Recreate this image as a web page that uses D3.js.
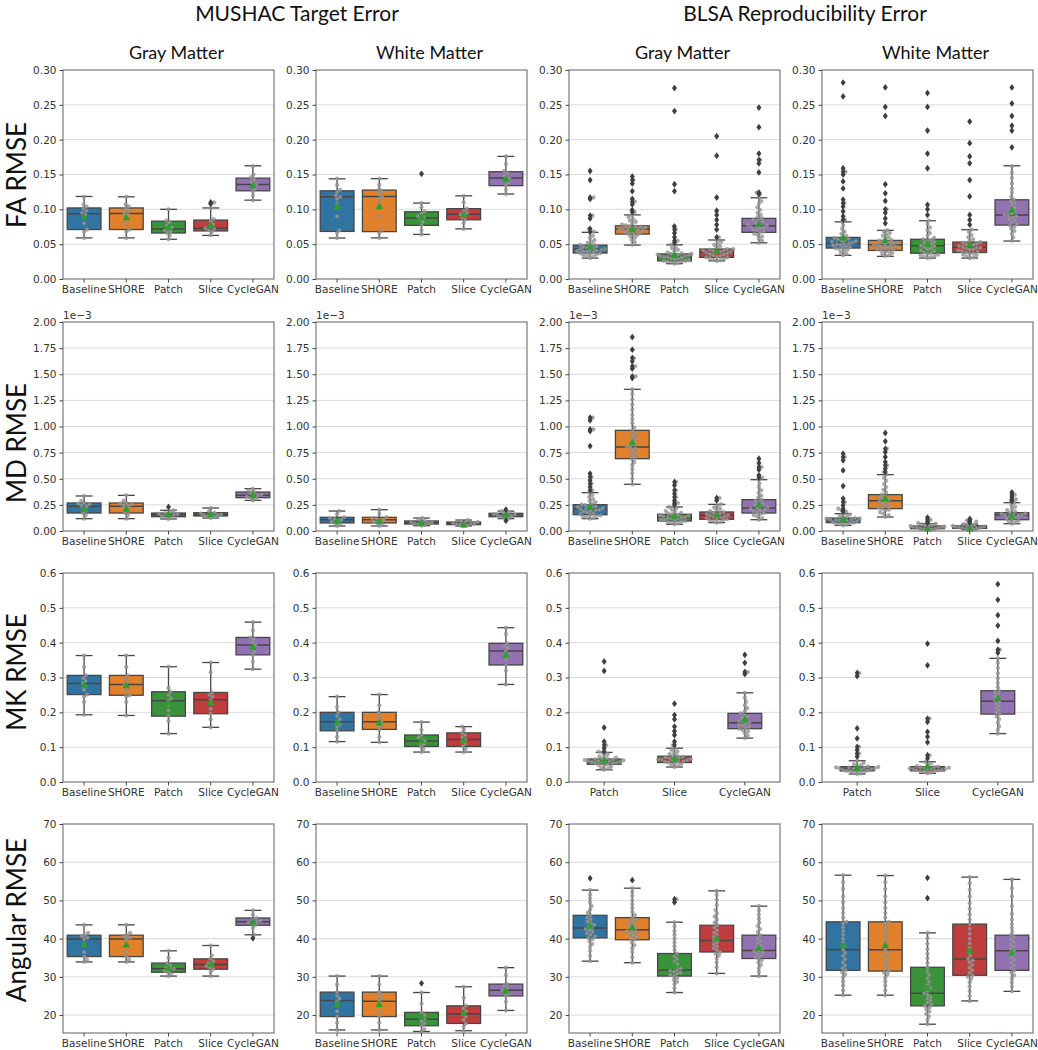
<!DOCTYPE html>
<html><head><meta charset="utf-8">
<script src="https://cdn.jsdelivr.net/npm/d3@7"></script>
<style>body{margin:0;background:#fff}svg{display:block}</style>
</head><body>
<svg id="chart" width="1038" height="1050"></svg>
<script>
// ---------------- DATA ----------------
const groupTitles = ["MUSHAC Target Error", "BLSA Reproducibility Error"];
const tissueTitles = ["Gray Matter", "White Matter", "Gray Matter", "White Matter"];
const rowLabels = ["FA RMSE", "MD RMSE", "MK RMSE", "Angular RMSE"];
const methods5 = ["Baseline", "SHORE", "Patch", "Slice", "CycleGAN"];
const methods3 = ["Patch", "Slice", "CycleGAN"];
const methodColors = ["#3274a1", "#e1812c", "#3a923a", "#c03d3e", "#9372b2"];

const faTicks = [0, 0.05, 0.10, 0.15, 0.20, 0.25, 0.30];
const faTickLabels = ["0.00", "0.05", "0.10", "0.15", "0.20", "0.25", "0.30"];
const mdTicks = [0, 0.25, 0.5, 0.75, 1.0, 1.25, 1.5, 1.75, 2.0];
const mdTickLabels = ["0.00", "0.25", "0.50", "0.75", "1.00", "1.25", "1.50", "1.75", "2.00"];
const mkTicks = [0, 0.1, 0.2, 0.3, 0.4, 0.5, 0.6];
const mkTickLabels = ["0.0", "0.1", "0.2", "0.3", "0.4", "0.5", "0.6"];
const angTicks = [20, 30, 40, 50, 60, 70];
const angTickLabels = ["20", "30", "40", "50", "60", "70"];
const rowDomains = [[0, 0.30], [0, 2.0], [0, 0.6], [15.3, 70]];
const mdOffsetLabel = "1e\u22123";

// box stats per method: [whiskerLow, q1, median, q3, whiskerHigh, mean]
// ---- FA ----
const fa_mg_stats = [[.059,.071,.0936,.102,.1185,.088],[.059,.071,.094,.102,.118,.088],[.057,.066,.0717,.083,.100,.074],[.0626,.069,.073,.0846,.102,.077],[.1132,.1266,.1357,.1448,.1625,.134]];
const fa_mw_stats = [[.0588,.0683,.118,.1266,.1438,.104],[.059,.068,.1185,.1276,.144,.104],[.064,.077,.0874,.0965,.109,.088],[.072,.085,.093,.101,.1194,.092],[.122,.134,.145,.154,.176,.143]];
const fa_bg_stats = [[.030,.0373,.043,.0487,.067,.046],[.0487,.0645,.0717,.0764,.092,.071],[.022,.026,.0325,.036,.049,.034],[.026,.031,.0387,.043,.056,.040],[.052,.067,.0764,.087,.1166,.079]];
const fa_bw_stats = [[.034,.0444,.0516,.0597,.082,.059],[.0325,.041,.049,.0554,.0698,.055],[.030,.037,.0478,.057,.0836,.050],[.030,.038,.0454,.053,.0707,.049],[.0545,.0774,.0917,.1137,.1625,.099]];
const fa_mg_out = [[],[],[],[.108,.110],[]];
const fa_mw_out = [[],[],[.151],[],[]];
const fa_bg_out = [[.155,.142,.117,.115,.091,.087,.072,.068],[.147,.142,.137,.126,.115,.111,.107,.099,.096],[.274,.241,.136,.126,.0755,.071,.066,.060,.055,.052],[.205,.177,.117,.098,.092,.085,.078,.071,.060],[.246,.218,.180,.171,.166,.153,.124,.122]];
const fa_bw_out = [[.282,.262,.159,.154,.150,.140,.130,.114,.109,.104,.097,.090,.085],[.275,.247,.234,.136,.123,.112,.100,.095,.087,.080],[.267,.247,.213,.180,.159,.1065,.100,.092],[.226,.195,.176,.166,.142,.1185,.092,.085,.078],[.275,.252,.234,.220,.213,.189]];
const fa_mg_pts = [[.059,.068,.071,.080,.088,.093,.095,.098,.101,.104,.107,.118],[.059,.068,.071,.080,.088,.093,.095,.098,.101,.104,.107,.118],[.057,.062,.066,.068,.070,.072,.074,.077,.081,.084,.100],[.063,.068,.070,.072,.073,.075,.079,.083,.086,.102],[.113,.120,.126,.130,.134,.136,.139,.143,.146,.150,.162]];
const fa_mw_pts = [[.059,.066,.070,.090,.108,.115,.118,.120,.125,.128,.135,.144],[.059,.066,.070,.090,.108,.115,.118,.121,.125,.129,.135,.144],[.064,.070,.077,.082,.086,.088,.090,.094,.097,.103,.109],[.072,.080,.085,.088,.091,.093,.095,.098,.101,.110,.119],[.122,.128,.134,.138,.143,.145,.148,.152,.155,.165,.176]];
const fa_bg_pts = [
 [.030,.032,.033,.034,.035,.036,.037,.037,.038,.039,.040,.040,.041,.042,.042,.043,.043,.044,.045,.046,.047,.048,.049,.050,.052,.054,.056,.059,.062,.067],
 [.049,.053,.056,.059,.061,.063,.064,.065,.066,.067,.068,.069,.070,.071,.071,.072,.072,.073,.074,.075,.075,.076,.077,.078,.080,.082,.084,.086,.089,.092],
 [.022,.023,.024,.025,.025,.026,.026,.027,.028,.029,.030,.031,.032,.032,.033,.033,.034,.034,.035,.035,.036,.036,.037,.038,.040,.042,.044,.046,.049],
 [.026,.027,.028,.029,.030,.031,.031,.032,.033,.034,.035,.036,.037,.038,.038,.039,.039,.040,.041,.041,.042,.043,.043,.045,.047,.049,.051,.053,.056],
 [.052,.055,.058,.061,.063,.065,.067,.068,.070,.071,.073,.074,.075,.076,.077,.078,.079,.081,.082,.084,.085,.087,.089,.092,.095,.099,.103,.108,.112,.117]];
const fa_bw_pts = [
 [.034,.036,.038,.040,.042,.043,.044,.045,.046,.047,.048,.049,.050,.051,.051,.052,.053,.054,.055,.056,.057,.058,.059,.060,.062,.065,.068,.072,.077,.082],
 [.033,.034,.036,.037,.039,.040,.041,.042,.043,.044,.045,.046,.047,.048,.049,.049,.050,.051,.052,.053,.054,.055,.056,.058,.060,.062,.064,.066,.068,.070],
 [.030,.031,.032,.033,.034,.035,.036,.037,.038,.040,.041,.043,.044,.046,.047,.048,.049,.050,.052,.053,.055,.056,.057,.059,.062,.066,.070,.074,.079,.084],
 [.030,.031,.032,.034,.035,.036,.037,.038,.039,.040,.041,.042,.043,.044,.045,.045,.046,.047,.048,.049,.050,.051,.052,.053,.055,.057,.060,.063,.067,.071],
 [.055,.060,.065,.069,.072,.075,.077,.079,.082,.084,.086,.088,.090,.091,.092,.094,.097,.100,.103,.106,.109,.111,.114,.118,.124,.130,.137,.145,.153,.162]];

// ---- MD (x1e-3) ----
const md_mg_stats = [[.118,.172,.236,.268,.335,.21],[.118,.172,.236,.268,.341,.21],[.115,.137,.156,.172,.198,.16],[.124,.144,.156,.175,.22,.157],[.293,.319,.341,.373,.405,.345]];
const md_mw_stats = [[.048,.077,.108,.131,.191,.095],[.048,.077,.108,.131,.204,.095],[.051,.067,.080,.096,.124,.075],[.048,.061,.073,.086,.105,.058],[.118,.137,.153,.169,.19,.155]];
const md_bg_stats = [[.118,.156,.21,.252,.367,.23],[.447,.692,.804,.963,1.356,.845],[.064,.096,.128,.16,.23,.14],[.08,.112,.15,.182,.255,.15],[.108,.172,.22,.30,.491,.25]];
const md_bw_stats = [[.054,.08,.108,.124,.166,.11],[.134,.214,.29,.348,.539,.31],[.013,.022,.038,.048,.07,.02],[.013,.025,.04,.05,.065,.02],[.07,.108,.153,.175,.271,.14]];
const md_mg_out = [[],[],[.23],[],[]];
const md_mw_out = [[],[],[],[],[.205,.098]];
const md_bg_out = [[1.085,1.06,.973,.957,.813,.549,.517,.485,.453,.42,.39],[1.856,1.735,1.656,1.624,1.576,1.553,1.48,1.464],[.469,.437,.39,.357,.325,.293,.268,.252],[.316,.293],[.692,.65,.612,.587,.533,.51]];
const md_bw_out = [[.74,.708,.676,.58,.43,.31,.277,.245,.214,.198,.185],[.938,.858,.788,.756,.708,.66,.628,.597,.565],[.128,.108,.089,.077],[.115,.1,.09,.08],[.37,.348,.325,.303,.287]];
const md_mg_pts = [[.118,.15,.172,.19,.215,.236,.245,.255,.262,.268,.29,.335],[.118,.15,.172,.19,.215,.236,.245,.255,.262,.268,.29,.341],[.115,.125,.137,.145,.152,.156,.16,.165,.172,.185,.198],[.124,.135,.144,.15,.154,.156,.16,.168,.175,.19,.22],[.293,.31,.319,.33,.338,.341,.35,.362,.373,.39,.405]];
const md_mw_pts = [[.048,.065,.077,.09,.1,.108,.115,.122,.131,.16,.191],[.048,.065,.077,.09,.1,.108,.115,.122,.131,.165,.204],[.051,.06,.067,.072,.077,.08,.085,.09,.096,.11,.124],[.048,.055,.061,.066,.07,.073,.077,.082,.086,.095,.105],[.118,.13,.137,.145,.15,.153,.157,.163,.169,.18,.19]];
const md_bg_pts = [
 [.118,.125,.132,.138,.145,.150,.156,.162,.170,.178,.185,.192,.198,.204,.208,.212,.218,.224,.230,.236,.242,.248,.252,.262,.275,.290,.305,.325,.345,.367],
 [.447,.50,.55,.59,.63,.66,.69,.71,.73,.75,.77,.79,.80,.81,.83,.85,.87,.89,.91,.93,.96,.99,1.03,1.07,1.11,1.16,1.21,1.26,1.31,1.356],
 [.064,.072,.080,.086,.092,.096,.100,.106,.110,.115,.120,.124,.128,.132,.136,.140,.145,.150,.155,.160,.166,.174,.182,.192,.203,.215,.23],
 [.080,.088,.095,.102,.108,.112,.118,.124,.130,.136,.142,.148,.152,.156,.162,.168,.174,.182,.190,.200,.212,.225,.240,.255],
 [.108,.125,.140,.152,.162,.172,.180,.190,.198,.206,.214,.220,.228,.238,.250,.262,.275,.288,.300,.318,.340,.365,.390,.420,.455,.491]];
const md_bw_pts = [
 [.054,.060,.066,.072,.077,.080,.085,.090,.095,.100,.104,.108,.110,.113,.116,.120,.124,.130,.138,.148,.158,.166],
 [.134,.150,.165,.180,.195,.205,.214,.225,.240,.255,.268,.280,.290,.300,.310,.322,.335,.348,.370,.395,.420,.450,.480,.510,.539],
 [.013,.016,.019,.022,.026,.030,.034,.038,.040,.043,.046,.048,.053,.058,.064,.070],
 [.013,.017,.021,.025,.029,.033,.037,.040,.043,.046,.050,.054,.059,.065],
 [.070,.080,.090,.100,.108,.118,.128,.138,.145,.150,.153,.158,.163,.168,.175,.188,.200,.215,.232,.250,.271]];

// ---- MK ----
const mk_mg_stats = [[.193,.251,.283,.306,.363,.278],[.191,.249,.28,.306,.363,.277],[.139,.189,.233,.259,.331,.226],[.157,.196,.236,.257,.343,.228],[.324,.365,.393,.415,.459,.387]];
const mk_mw_stats = [[.116,.147,.173,.2,.245,.17],[.114,.151,.173,.2,.251,.17],[.086,.102,.118,.135,.172,.118],[.086,.102,.122,.141,.159,.12],[.28,.336,.376,.398,.443,.365]];
const mk_bg_stats = [[.035,.051,.06,.066,.085,.06],[.043,.056,.065,.074,.097,.067],[.126,.153,.17,.197,.256,.18]];
const mk_bw_stats = [[.023,.032,.039,.044,.061,.04],[.025,.032,.038,.044,.058,.045],[.139,.195,.232,.262,.355,.24]];
const mk_mg_out = [[],[],[],[],[]];
const mk_mw_out = [[],[],[],[],[]];
const mk_bg_out = [[.346,.319,.156,.116,.106,.097,.087],[.225,.192,.18,.159,.146,.135,.116,.106],[.365,.342,.316,.31]];
const mk_bw_out = [[.313,.304,.154,.125,.101,.092,.082,.073],[.397,.335,.182,.173,.144,.13,.114,.077,.068],[.568,.523,.479,.449,.405,.38,.371]];
const mk_mg_pts = [[.193,.23,.245,.251,.265,.275,.283,.29,.298,.306,.33,.363],[.191,.23,.245,.249,.262,.272,.28,.288,.297,.306,.33,.363],[.139,.175,.189,.205,.22,.233,.24,.25,.259,.27,.331],[.157,.18,.196,.21,.225,.236,.245,.25,.257,.315,.343],[.324,.345,.365,.375,.385,.393,.4,.41,.415,.435,.459]];
const mk_mw_pts = [[.116,.13,.147,.158,.165,.173,.18,.19,.2,.215,.245],[.114,.13,.151,.16,.167,.173,.18,.19,.2,.22,.251],[.086,.095,.102,.108,.113,.118,.123,.128,.135,.15,.172],[.086,.095,.102,.11,.116,.122,.128,.135,.141,.15,.159],[.28,.32,.336,.35,.365,.376,.385,.39,.398,.425,.443]];
const mk_bg_pts = [
 [.035,.038,.041,.044,.047,.049,.051,.053,.054,.055,.056,.057,.058,.059,.060,.060,.061,.062,.063,.064,.065,.066,.068,.070,.073,.076,.080,.085],
 [.043,.046,.049,.052,.054,.056,.058,.059,.060,.062,.063,.064,.065,.066,.067,.068,.069,.070,.072,.074,.077,.080,.084,.088,.092,.097],
 [.126,.133,.140,.145,.149,.153,.156,.159,.162,.165,.168,.170,.173,.176,.180,.184,.188,.192,.197,.204,.212,.220,.230,.242,.256]];
const mk_bw_pts = [
 [.023,.025,.027,.029,.031,.032,.033,.034,.035,.036,.037,.038,.039,.039,.040,.041,.042,.043,.044,.046,.048,.051,.055,.061],
 [.025,.027,.029,.031,.032,.033,.034,.035,.036,.037,.038,.038,.039,.040,.041,.042,.043,.044,.046,.049,.053,.058],
 [.139,.150,.160,.170,.180,.188,.195,.200,.206,.212,.218,.224,.230,.234,.240,.246,.252,.258,.262,.272,.284,.298,.312,.328,.342,.355]];

// ---- Angular ----
const ang_mg_stats = [[33.9,35.3,39.9,40.9,43.6,38.4],[33.9,35.3,39.9,40.9,43.6,38.4],[30.2,31.2,32.1,33.6,36.8,32.3],[30.2,32.0,33.2,34.7,38.2,33.3],[41.0,43.5,44.4,45.4,47.4,44.3]];
const ang_mw_stats = [[16.1,19.6,23.8,26.0,30.2,22.8],[16.1,19.6,23.6,26.0,30.2,22.8],[15.7,17.2,18.9,20.7,25.9,19.5],[15.9,17.8,20.3,22.4,27.4,20.5],[21.2,25.0,26.5,28.1,32.4,26.3]];
const ang_bg_stats = [[34.1,40.2,42.8,46.1,52.7,43.3],[33.7,39.7,42.3,45.5,53.2,42.9],[25.9,30.2,31.8,36.1,44.3,33.0],[30.9,36.5,39.5,43.5,52.5,40.0],[30.2,34.8,36.9,40.9,48.5,37.5]];
const ang_bw_stats = [[25.2,31.7,37.1,44.4,56.6,38.2],[25.2,31.5,37.1,44.4,56.5,38.2],[17.6,22.4,25.7,32.5,41.5,27.0],[23.7,30.4,34.7,43.8,56.1,36.9],[26.2,31.7,36.8,40.9,55.5,36.3]];
const ang_mg_out = [[],[],[],[],[40.1]];
const ang_mw_out = [[],[],[28.3],[],[]];
const ang_bg_out = [[55.8],[55.3],[50.3,49.5],[],[]];
const ang_bw_out = [[],[],[55.9,50.6],[],[]];
const ang_mg_pts = [[33.9,34.5,35.3,36.5,38.5,39.9,40.2,40.6,40.9,41.5,43.6],[33.9,34.5,35.3,36.5,38.5,39.9,40.2,40.6,40.9,41.5,43.6],[30.2,30.8,31.2,31.6,32,32.1,32.5,33,33.6,35,36.8],[30.2,31.3,32,32.4,32.8,33.2,33.6,34.1,34.7,35.6,38.2],[41,42.8,43.5,43.9,44.2,44.4,44.7,45,45.4,46.3,47.4]];
const ang_mw_pts = [[16.1,18,19.6,21,22.5,23.6,24.3,25,26,28,30.2],[16.1,18,19.6,21,22.5,23.6,24.3,25,26,28,30.2],[15.7,16.3,17.2,17.8,18.4,18.9,19.5,20,20.7,23,25.9],[15.9,17,17.8,18.8,19.6,20.3,21,21.7,22.4,24.5,27.4],[21.2,23.5,25,25.6,26.1,26.5,27,27.6,28.1,30.5,32.4]];
const ang_bg_pts = [
 [34.1,35.5,36.8,37.8,38.6,39.3,39.9,40.2,40.6,41.0,41.4,41.8,42.2,42.5,42.8,43.2,43.6,44.0,44.5,45.0,45.5,46.1,46.8,47.6,48.5,49.5,50.5,51.5,52.7],
 [33.7,35.2,36.5,37.5,38.3,39.0,39.7,40.1,40.5,40.9,41.3,41.7,42.0,42.3,42.7,43.1,43.5,44.0,44.5,45.0,45.5,46.2,47.0,48.0,49.0,50.0,51.2,52.2,53.2],
 [25.9,27.0,28.0,28.7,29.2,29.7,30.2,30.5,30.8,31.1,31.4,31.6,31.8,32.2,32.7,33.3,34.0,34.7,35.4,36.1,37.0,38.0,39.0,40.0,41.0,42.0,43.2,44.3],
 [30.9,32.5,33.8,34.8,35.6,36.1,36.5,37.0,37.5,38.0,38.5,39.0,39.5,40.0,40.5,41.0,41.6,42.2,42.9,43.5,44.2,45.0,45.8,46.6,47.5,48.8,50.2,51.4,52.5],
 [30.2,31.3,32.3,33.1,33.8,34.3,34.8,35.2,35.6,36.0,36.3,36.6,36.9,37.3,37.8,38.3,38.8,39.4,40.1,40.9,41.7,42.5,43.3,44.2,45.2,46.3,47.4,48.5]];
const ang_bw_pts = [
 [25.2,26.5,27.7,28.8,29.8,30.6,31.2,31.7,32.3,33.0,33.8,34.6,35.5,36.3,37.1,38.0,39.0,40.0,41.0,42.0,43.0,44.0,44.4,45.5,46.7,48.0,49.5,51.0,53.0,54.8,56.6],
 [25.2,26.5,27.7,28.8,29.8,30.6,31.1,31.5,32.2,33.0,33.8,34.6,35.5,36.3,37.1,38.0,39.0,40.0,41.0,42.0,43.0,44.0,44.4,45.5,46.7,48.0,49.5,51.0,53.0,54.8,56.5],
 [17.6,18.7,19.6,20.3,20.9,21.5,22.0,22.4,22.8,23.3,23.8,24.3,24.8,25.3,25.7,26.3,27.0,27.8,28.7,29.6,30.5,31.5,32.5,33.6,34.8,36.0,37.3,38.7,40.1,41.5],
 [23.7,25.0,26.3,27.5,28.6,29.5,30.0,30.4,31.0,31.7,32.4,33.1,33.8,34.3,34.7,35.5,36.5,37.6,38.8,40.0,41.3,42.6,43.8,45.0,46.3,47.8,49.3,51.0,52.8,54.5,56.1],
 [26.2,27.5,28.6,29.6,30.4,31.1,31.7,32.3,33.0,33.7,34.4,35.1,35.8,36.3,36.8,37.3,37.9,38.5,39.1,39.8,40.4,40.9,41.8,42.8,43.8,45.0,46.5,48.5,51.0,53.2,55.5]];

// ---------------- LAYOUT ----------------
const colLeft = [63, 316, 569, 822];
const rowTop = [70, 322, 573, 824];
const PW = 211, PH = 209;
const BOXW = 0.8 * PW / 5;
const rowTicks = [faTicks, mdTicks, mkTicks, angTicks];
const rowTickLabels = [faTickLabels, mdTickLabels, mkTickLabels, angTickLabels];
const rowLabelY = [175, 443, 672, 920];

const panels = [
  [0,0,methods5,fa_mg_stats,fa_mg_out,fa_mg_pts],[0,1,methods5,fa_mw_stats,fa_mw_out,fa_mw_pts],
  [0,2,methods5,fa_bg_stats,fa_bg_out,fa_bg_pts],[0,3,methods5,fa_bw_stats,fa_bw_out,fa_bw_pts],
  [1,0,methods5,md_mg_stats,md_mg_out,md_mg_pts],[1,1,methods5,md_mw_stats,md_mw_out,md_mw_pts],
  [1,2,methods5,md_bg_stats,md_bg_out,md_bg_pts],[1,3,methods5,md_bw_stats,md_bw_out,md_bw_pts],
  [2,0,methods5,mk_mg_stats,mk_mg_out,mk_mg_pts],[2,1,methods5,mk_mw_stats,mk_mw_out,mk_mw_pts],
  [2,2,methods3,mk_bg_stats,mk_bg_out,mk_bg_pts],[2,3,methods3,mk_bw_stats,mk_bw_out,mk_bw_pts],
  [3,0,methods5,ang_mg_stats,ang_mg_out,ang_mg_pts],[3,1,methods5,ang_mw_stats,ang_mw_out,ang_mw_pts],
  [3,2,methods5,ang_bg_stats,ang_bg_out,ang_bg_pts],[3,3,methods5,ang_bw_stats,ang_bw_out,ang_bw_pts]
];

const svg = d3.select("#chart");
const TICKFONT = "DejaVu Sans, sans-serif";
const TITLEFONT = "Lato, 'Open Sans', sans-serif";

function beeswarm(ys, d, maxOff) {
  const order = ys.map((y, i) => i).sort((a, b) => ys[b] - ys[a]);
  const xs = new Array(ys.length);
  const placed = [];
  for (const i of order) {
    const y = ys[i];
    const near = placed.filter(p => Math.abs(p.y - y) < d);
    const cands = [0];
    for (const p of near) {
      const dx = Math.sqrt(d * d - (p.y - y) ** 2);
      cands.push(p.x + dx + 0.01, p.x - dx - 0.01);
    }
    cands.sort((a, b) => Math.abs(a) - Math.abs(b));
    let chosen = cands[cands.length - 1];
    for (const c of cands) {
      if (near.every(p => (p.x - c) ** 2 + (p.y - y) ** 2 >= d * d - 0.01)) { chosen = c; break; }
    }
    chosen = Math.max(-maxOff, Math.min(maxOff, chosen));
    xs[i] = chosen;
    placed.push({ x: chosen, y });
  }
  return xs;
}

panels.forEach(([r, c, cats, stats, outs, pts]) => {
  const g = svg.append("g").attr("transform", `translate(${colLeft[c]},${rowTop[r]})`);
  const y = d3.scaleLinear().domain(rowDomains[r]).range([PH, 0]);
  const x = d3.scaleBand().domain(cats).range([0, PW]).padding(0);
  const ticks = rowTicks[r], labels = rowTickLabels[r];

  g.selectAll(".grid").data(ticks.filter(t => y(t) > 0.5 && y(t) < PH - 0.5)).enter().append("line")
    .attr("x1", 0).attr("x2", PW).attr("y1", d => y(d)).attr("y2", d => y(d))
    .attr("stroke", "#dadada").attr("stroke-width", 1);

  cats.forEach((cat, i) => {
    const s = stats[i];
    const cx = x(cat) + x.bandwidth() / 2;
    const col = methodColors[methods5.indexOf(cat)];
    const bg = g.append("g");
    bg.append("line").attr("x1", cx).attr("x2", cx).attr("y1", y(s[3])).attr("y2", y(s[4])).attr("stroke", "#464646").attr("stroke-width", 1.3);
    bg.append("line").attr("x1", cx).attr("x2", cx).attr("y1", y(s[1])).attr("y2", y(s[0])).attr("stroke", "#464646").attr("stroke-width", 1.3);
    bg.append("line").attr("x1", cx - BOXW / 4).attr("x2", cx + BOXW / 4).attr("y1", y(s[4])).attr("y2", y(s[4])).attr("stroke", "#464646").attr("stroke-width", 1.3);
    bg.append("line").attr("x1", cx - BOXW / 4).attr("x2", cx + BOXW / 4).attr("y1", y(s[0])).attr("y2", y(s[0])).attr("stroke", "#464646").attr("stroke-width", 1.3);
    bg.append("rect").attr("x", cx - BOXW / 2).attr("width", BOXW)
      .attr("y", y(s[3])).attr("height", Math.max(0.5, y(s[1]) - y(s[3])))
      .attr("fill", col).attr("stroke", "#464646").attr("stroke-width", 1.3);
    bg.append("line").attr("x1", cx - BOXW / 2).attr("x2", cx + BOXW / 2).attr("y1", y(s[2])).attr("y2", y(s[2])).attr("stroke", "#464646").attr("stroke-width", 1.5);

    const all = pts[i].concat(outs[i]);
    const ys = all.map(v => y(v));
    const xs = beeswarm(ys, 3.7, x.bandwidth() * 0.4);
    bg.selectAll(".sw").data(all).enter().append("circle")
      .attr("cx", (d, k) => cx + xs[k]).attr("cy", d => y(d)).attr("r", 1.8)
      .attr("fill", "#9a9a9a").attr("stroke", "#858585").attr("stroke-width", 0.5).attr("opacity", 0.85);

    const my = y(s[5]);
    bg.append("path").attr("d", `M${cx},${my - 3.6}L${cx - 3.3},${my + 2.4}L${cx + 3.3},${my + 2.4}Z`)
      .attr("fill", "#2ca02c").attr("stroke", "#2ca02c").attr("stroke-width", 0.5);

    bg.selectAll(".fl").data(outs[i]).enter().append("path")
      .attr("d", d => { const yy = y(d); return `M${cx},${yy - 3.4}L${cx + 2.4},${yy}L${cx},${yy + 3.4}L${cx - 2.4},${yy}Z`; })
      .attr("fill", "#3f3f3f");
  });

  g.append("rect").attr("x", 0).attr("y", 0).attr("width", PW).attr("height", PH)
    .attr("fill", "none").attr("stroke", "#7a7a7a").attr("stroke-width", 1.2);

  const ya = g.append("g").call(d3.axisLeft(y).tickValues(ticks).tickFormat((d, k) => labels[k]).tickSize(3.5).tickPadding(3));
  const xa = g.append("g").attr("transform", `translate(0,${PH})`).call(d3.axisBottom(x).tickSize(3.5).tickPadding(3));
  [ya, xa].forEach(a => {
    a.select(".domain").remove();
    a.selectAll(".tick line").attr("stroke", "#444");
    a.selectAll("text").attr("font-family", TICKFONT).attr("font-size", "10.5px").attr("fill", "#333");
  });

  if (r === 1) {
    g.append("text").attr("x", 0).attr("y", -3).text(mdOffsetLabel)
      .attr("font-family", TICKFONT).attr("font-size", "10.5px").attr("fill", "#333");
  }
  if (r === 0) {
    g.append("text").attr("x", PW / 2 + 8).attr("y", -11).attr("text-anchor", "middle")
      .text(tissueTitles[c]).attr("font-family", TITLEFONT).attr("font-size", "18px").attr("fill", "#111");
  }
});

svg.append("text").attr("x", 297).attr("y", 21).attr("text-anchor", "middle").text(groupTitles[0])
  .attr("font-family", TITLEFONT).attr("font-size", "21px").attr("fill", "#111");
svg.append("text").attr("x", 805).attr("y", 21).attr("text-anchor", "middle").text(groupTitles[1])
  .attr("font-family", TITLEFONT).attr("font-size", "21px").attr("fill", "#111");

rowLabels.forEach((t, r) => {
  svg.append("text").attr("transform", `translate(26,${rowLabelY[r]}) rotate(-90)`)
    .attr("text-anchor", "middle").text(t)
    .attr("font-family", TITLEFONT).attr("font-size", "26px").attr("fill", "#111");
});
</script>
</body></html>
